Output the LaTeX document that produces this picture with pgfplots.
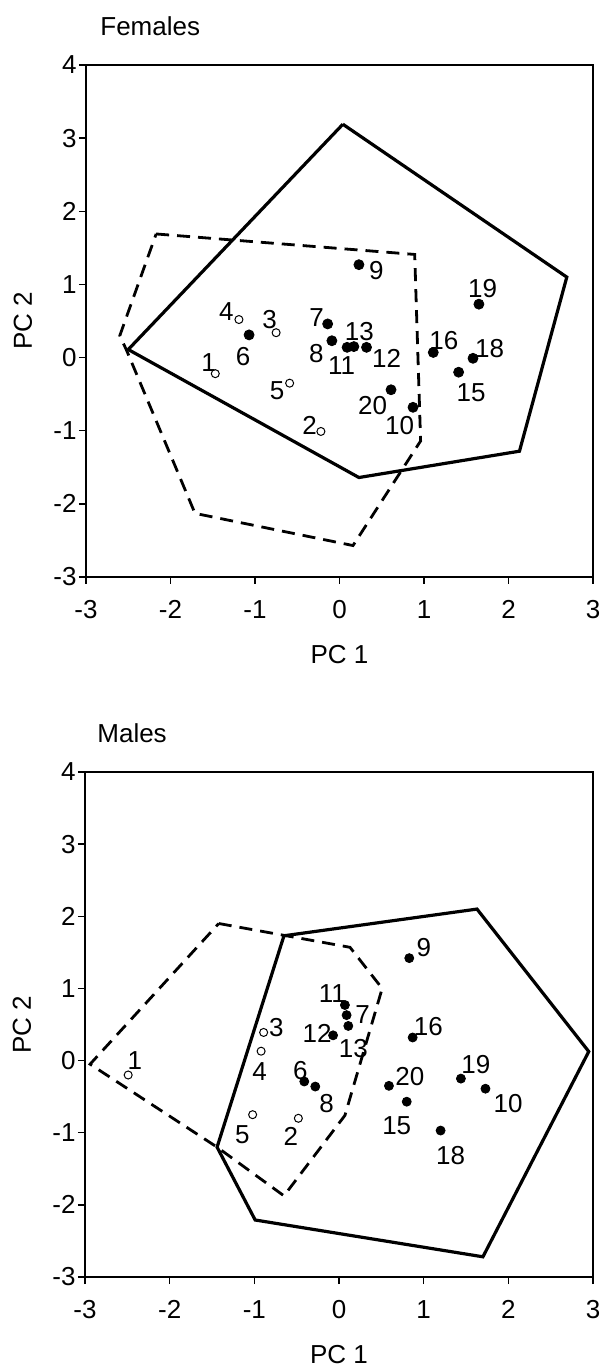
\documentclass[border=0pt]{standalone}
\usepackage{fontspec}
\setmainfont{Liberation Sans}
\usepackage{pgfplots}
\pgfplotsset{compat=1.18}
\pgfplotstableread{
x y lab dx dy
-1.47 -0.22 1 -3.3 5.8
-0.22 -1.01 2 -5.7 2.8
-0.75 0.34 3 -3.3 6.7
-1.19 0.52 4 -6.3 4.2
-0.59 -0.35 5 -6.3 -4.0
}\femopen
\pgfplotstableread{
x y lab dx dy
-1.07 0.31 6 -3.0 -11.0
-0.14 0.46 7 -5.5 3.0
-0.09 0.23 8 -7.8 -6.2
0.23 1.27 9 8.7 -3.0
0.87 -0.68 10 -6.7 -9.2
0.09 0.14 11 -2.8 -9.2
0.32 0.14 12 10.0 -5.3
0.17 0.15 13 2.8 7.7
1.41 -0.20 15 6.2 -10.0
1.11 0.07 16 5.3 6.2
1.58 -0.01 18 8.3 5.0
1.65 0.73 19 1.8 8.0
0.61 -0.44 20 -9.2 -7.7
}\femfill
\pgfplotstableread{
x y lab dx dy
-2.49 -0.20 1 3.3 7.2
-0.48 -0.80 2 -3.8 -9.0
-0.89 0.39 3 6.3 2.5
-0.92 0.13 4 -0.8 -10.2
-1.02 -0.75 5 -5.2 -10.2
}\malopen
\pgfplotstableread{
x y lab dx dy
-0.41 -0.29 6 -2.0 5.5
0.09 0.63 7 8.0 0.5
-0.28 -0.36 8 5.7 -8.7
0.83 1.42 9 7.3 5.5
1.73 -0.39 10 11.3 -7.2
0.07 0.77 11 -6.3 5.5
-0.07 0.35 12 -8.0 0.8
0.11 0.48 13 2.5 -11.3
0.80 -0.57 15 -5.0 -12.0
0.87 0.32 16 7.8 5.3
1.20 -0.97 18 5.0 -12.5
1.44 -0.25 19 7.5 7.2
0.59 -0.35 20 10.5 4.5
}\malfill
\pgfplotsset{
  pcastyle/.style={
    scale only axis,
    xmin=-3, xmax=3, ymin=-3, ymax=4,
    xtick={-3,-2,-1,0,1,2,3}, ytick={-3,-2,-1,0,1,2,3,4},
    tick align=outside, xtick pos=left, ytick pos=left,
    major tick length=3.5pt,
    axis line style={line width=0.7pt},
    every tick/.style={line width=0.7pt, black},
    /pgf/number format/assume math mode=true,
    font=\fontsize{13pt}{15pt}\selectfont,
    xticklabel style={anchor=north, inner sep=0pt, yshift=-8pt},
    yticklabel style={anchor=east, inner sep=0pt, xshift=-1pt},
    xlabel={PC 1}, ylabel={PC 2},
    xlabel style={at={([yshift=-39pt]axis description cs:0.5,0)}, anchor=center, inner sep=0pt},
    ylabel style={at={([xshift=-31.5pt]axis description cs:0,0.5)}, anchor=center, inner sep=0pt, rotate=0},
    title style={anchor=base west, inner sep=0pt, yshift=-6pt},
  },
  hull/.style={black, line width=1.6pt, line join=miter, no markers},
  dhull/.style={black, line width=1.4pt, dash pattern=on 6.5pt off 4pt, no markers},
  labpts/.style={
    only marks,
    point meta=explicit symbolic,
    nodes near coords,
    visualization depends on={\thisrow{dx} \as \ldx},
    visualization depends on={\thisrow{dy} \as \ldy},
    every node near coord/.append style={anchor=center, inner sep=0pt,
      xshift=\ldx pt, yshift=\ldy pt, black, font=\fontsize{13pt}{15pt}\selectfont},
  },
}
\begin{document}
\begin{tikzpicture}
\path[use as bounding box] (0,0) rectangle (302.5pt,-685pt);
% Females
\begin{axis}[pcastyle, at={(43pt,-32.5pt)}, anchor=north west,
  width=253.5pt, height=256pt,
  title={Females}, title style={at={([xshift=7pt,yshift=15pt]axis description cs:0,1)}}]
\addplot[hull] coordinates {(0.04,3.19) (2.69,1.10) (2.13,-1.28) (0.23,-1.64) (-2.50,0.11) (0.04,3.19)};
\addplot[dhull] coordinates {(-2.17,1.69) (0.89,1.41) (0.96,-1.14) (0.16,-2.57) (-1.71,-2.13) (-2.52,0.10) (-2.60,0.30) (-2.17,1.69)};
\addplot[labpts, mark=o, mark size=2pt, mark options={line width=0.5pt, black}] table[x=x,y=y,meta=lab] {\femopen};
\addplot[labpts, mark=*, mark size=2.5pt, mark options={black, fill=black}] table[x=x,y=y,meta=lab] {\femfill};
\end{axis}
% Males
\begin{axis}[pcastyle, at={(42.5pt,-386pt)}, anchor=north west,
  width=254pt, height=252.5pt,
  title={Males}, title style={at={([xshift=6pt,yshift=15pt]axis description cs:0,1)}}]
\addplot[hull] coordinates {(-0.65,1.73) (1.63,2.10) (2.95,0.125) (1.70,-2.72) (-0.99,-2.21) (-1.44,-1.20) (-0.65,1.73)};
\addplot[dhull] coordinates {(-1.42,1.90) (0.13,1.57) (0.51,1.00) (0.07,-0.76) (-0.65,-1.875) (-1.44,-1.20) (-2.94,-0.05) (-1.42,1.90)};
\addplot[labpts, mark=o, mark size=2pt, mark options={line width=0.5pt, black}] table[x=x,y=y,meta=lab] {\malopen};
\addplot[labpts, mark=*, mark size=2.25pt, mark options={black, fill=black}] table[x=x,y=y,meta=lab] {\malfill};
\end{axis}
\end{tikzpicture}
\end{document}
